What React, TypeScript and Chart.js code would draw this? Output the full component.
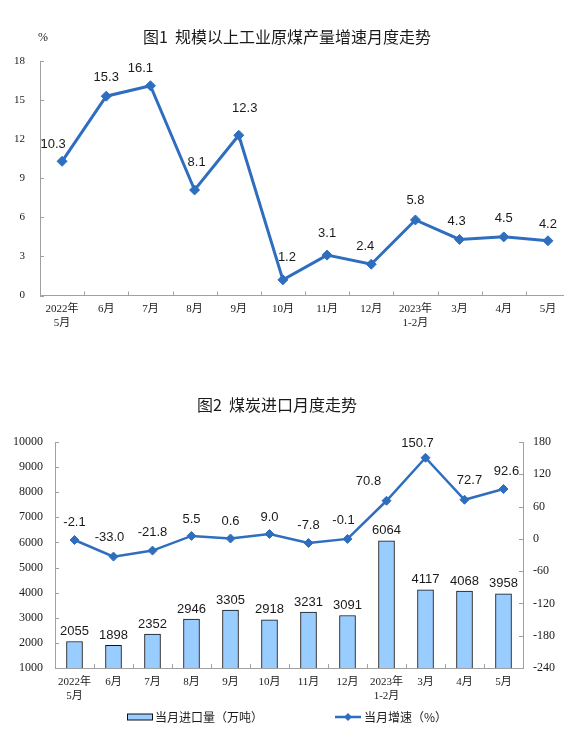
import React, { useEffect, useRef } from 'react';
import { Chart, registerables } from 'chart.js';

Chart.register(...registerables);

// ---------- data ----------
const monthLabels: (string | string[])[] = [
  ['2022年', '5月'], '6月', '7月', '8月', '9月', '10月', '11月', '12月',
  ['2023年', '1-2月'], '3月', '4月', '5月',
];
const rawCoalGrowth = [10.3, 15.3, 16.1, 8.1, 12.3, 1.2, 3.1, 2.4, 5.8, 4.3, 4.5, 4.2];
const importVolume = [2055, 1898, 2352, 2946, 3305, 2918, 3231, 3091, 6064, 4117, 4068, 3958];
const importGrowth = [-2.1, -33.0, -21.8, 5.5, 0.6, 9.0, -7.8, -0.1, 70.8, 150.7, 72.7, 92.6];

const growthAxis = { min: 0, max: 18, step: 3 };
const volumeAxis = { min: 1000, max: 10000, step: 1000 };
const importGrowthAxis = { min: -240, max: 180, step: 60 };

const title1 = '图1  规模以上工业原煤产量增速月度走势';
const title2 = '图2  煤炭进口月度走势';
const unit1 = '%';
const volumeLegend = '当月进口量（万吨）';
const growthLegend = '当月增速（%）';

// label offsets (presentation only)
const topLabelNudge = [[-9, -17], [0, -19], [-10, -17], [2, -28], [6, -27], [4, -22], [0, -22], [-6, -18], [0, -20], [-3, -18], [0, -18], [0, -16]];
const bottomLabelNudge = [[0, -18], [-4, -19], [0, -18], [0, -16], [0, -17], [0, -17], [0, -18], [-4, -18], [-18, -19], [-8, -14], [5, -19], [3, -18]];

// ---------- styles ----------
const LINE_BLUE = '#2F6EBE';
const BAR_FILL = '#99CCFF';
const AXIS_GREY = '#A0A0A0';
const TEXT = '#1a1a1a';
const SERIF = "'Liberation Serif', 'Times New Roman', 'Noto Sans CJK SC', serif";
const SANS = "'Liberation Sans', Arial, 'Noto Sans CJK SC', sans-serif";
const CJK = "'Noto Sans CJK SC', 'Noto Sans', sans-serif";

const inwardTicks = {
  id: 'inwardTicks',
  beforeDatasetsDraw(chart: any) {
    const { ctx, chartArea } = chart;
    ctx.save();
    ctx.strokeStyle = AXIS_GREY;
    ctx.lineWidth = 1;
    ctx.beginPath();
    Object.values(chart.scales).forEach((scale: any) => {
      if (scale.axis === 'y') {
        const left = scale.position === 'left';
        scale.ticks.forEach((_t: any, i: number) => {
          const y = Math.round(scale.getPixelForTick(i)) + 0.5;
          const x = left ? chartArea.left : chartArea.right;
          ctx.moveTo(x, y);
          ctx.lineTo(left ? x + 4 : x - 4, y);
        });
      } else {
        const n = scale.ticks.length;
        const w = (chartArea.right - chartArea.left) / n;
        for (let i = 1; i < n; i++) {
          const x = Math.round(chartArea.left + i * w) + 0.5;
          ctx.moveTo(x, chartArea.bottom);
          ctx.lineTo(x, chartArea.bottom - 4);
        }
      }
    });
    ctx.stroke();
    ctx.restore();
  },
};

const valueLabels = {
  id: 'valueLabels',
  afterDatasetsDraw(chart: any) {
    const { ctx } = chart;
    ctx.save();
    ctx.fillStyle = TEXT;
    ctx.font = `13px ${SANS}`;
    ctx.textAlign = 'center';
    ctx.textBaseline = 'middle';
    chart.data.datasets.forEach((ds: any, di: number) => {
      const meta = chart.getDatasetMeta(di);
      meta.data.forEach((el: any, j: number) => {
        const v = ds.data[j];
        const text = ds.labelDecimals != null ? v.toFixed(ds.labelDecimals) : String(v);
        if (ds.labelNudge) {
          const [dx, dy] = ds.labelNudge[j];
          ctx.fillText(text, el.x + dx, el.y + dy);
        } else {
          ctx.fillText(text, el.x, el.y - 10);
        }
      });
    });
    ctx.restore();
  },
};

const decor = {
  id: 'decor',
  afterDraw(chart: any, _args: any, opts: any) {
    const { ctx } = chart;
    ctx.save();
    ctx.fillStyle = TEXT;
    ctx.textBaseline = 'middle';
    if (opts.title) {
      ctx.font = `16px ${CJK}`;
      ctx.textAlign = 'center';
      ctx.fillText(opts.title, opts.titleX, opts.titleY);
    }
    if (opts.unit) {
      ctx.font = `12px ${SERIF}`;
      ctx.textAlign = 'center';
      ctx.fillText(opts.unit, opts.unitX, opts.unitY);
    }
    if (opts.legend) {
      const y = opts.legendY;
      ctx.font = `12px ${CJK}`;
      ctx.textAlign = 'left';
      // bar swatch
      ctx.fillStyle = BAR_FILL;
      ctx.fillRect(127.5, y - 3, 25, 6);
      ctx.strokeStyle = '#111';
      ctx.lineWidth = 1;
      ctx.strokeRect(127.5, y - 3, 25, 6);
      ctx.fillStyle = TEXT;
      ctx.fillText(chart.data.datasets[1].label, 155, y);
      // line swatch
      ctx.strokeStyle = LINE_BLUE;
      ctx.lineWidth = 2.5;
      ctx.beginPath();
      ctx.moveTo(335, y);
      ctx.lineTo(361, y);
      ctx.stroke();
      ctx.fillStyle = LINE_BLUE;
      ctx.beginPath();
      ctx.moveTo(348, y - 4);
      ctx.lineTo(352, y);
      ctx.lineTo(348, y + 4);
      ctx.lineTo(344, y);
      ctx.closePath();
      ctx.fill();
      ctx.fillStyle = TEXT;
      ctx.fillText(chart.data.datasets[0].label, 364, y);
    }
    ctx.restore();
  },
};

const yTickFont = (size: number) => ({ family: SERIF, size });

function TopChart() {
  const ref = useRef<HTMLCanvasElement>(null);
  useEffect(() => {
    const chart = new Chart(ref.current!, {
      type: 'line',
      data: {
        labels: monthLabels,
        datasets: [
          {
            label: '原煤产量增速',
            data: rawCoalGrowth,
            borderColor: LINE_BLUE,
            backgroundColor: LINE_BLUE,
            borderWidth: 3,
            pointStyle: 'rectRot',
            pointRadius: 5,
            pointBorderWidth: 1,
            tension: 0,
            labelDecimals: 1,
            labelNudge: topLabelNudge,
          } as any,
        ],
      },
      options: {
        animation: false,
        responsive: false,
        events: [],
        layout: { padding: { top: 61, right: 10, left: 0, bottom: 0 } },
        plugins: {
          legend: { display: false },
          tooltip: { enabled: false },
          decor: { title: title1, titleX: 287, titleY: 37, unit: unit1, unitX: 43, unitY: 38 },
        } as any,
        scales: {
          x: {
            type: 'category',
            offset: true,
            grid: { display: true, drawOnChartArea: false, drawTicks: false, offset: true },
            border: { display: true, color: AXIS_GREY, width: 1 },
            ticks: { font: { family: SERIF, size: 11, lineHeight: 1.25 }, color: TEXT, padding: 7, maxRotation: 0, autoSkip: false },
            afterFit: (s: any) => { s.height = 49.5; },
          },
          y: {
            min: growthAxis.min,
            max: growthAxis.max,
            grid: { display: true, drawOnChartArea: false, drawTicks: false },
            border: { display: true, color: AXIS_GREY, width: 1 },
            ticks: { stepSize: growthAxis.step, font: yTickFont(11), color: TEXT, padding: 15 },
            afterFit: (s: any) => { s.width = 40; },
          },
        },
      },
      plugins: [inwardTicks, valueLabels, decor],
    });
    return () => chart.destroy();
  }, []);
  return <canvas ref={ref} width={580} height={345} style={{ position: 'absolute', left: 0, top: 0, display: 'block' }} />;
}

function BottomChart() {
  const ref = useRef<HTMLCanvasElement>(null);
  useEffect(() => {
    const chart = new Chart(ref.current!, {
      type: 'bar',
      data: {
        labels: monthLabels,
        datasets: [
          {
            type: 'line',
            label: growthLegend,
            data: importGrowth,
            yAxisID: 'y1',
            borderColor: LINE_BLUE,
            backgroundColor: LINE_BLUE,
            borderWidth: 2.5,
            pointStyle: 'rectRot',
            pointRadius: 4.5,
            pointBorderWidth: 1,
            tension: 0,
            order: 0,
            labelDecimals: 1,
            labelNudge: bottomLabelNudge,
          } as any,
          {
            type: 'bar',
            label: volumeLegend,
            data: importVolume,
            yAxisID: 'y',
            backgroundColor: BAR_FILL,
            borderColor: '#111',
            borderWidth: 1,
            barThickness: 16,
            order: 1,
          } as any,
        ],
      },
      options: {
        animation: false,
        responsive: false,
        events: [],
        layout: { padding: { top: 97, right: 0, left: 0, bottom: 0 } },
        plugins: {
          legend: { display: false },
          tooltip: { enabled: false },
          decor: { title: title2, titleX: 277, titleY: 60, legend: true, legendY: 372 },
        } as any,
        scales: {
          x: {
            type: 'category',
            offset: true,
            grid: { display: true, drawOnChartArea: false, drawTicks: false, offset: true },
            border: { display: true, color: AXIS_GREY, width: 1 },
            ticks: { font: { family: SERIF, size: 11, lineHeight: 1.25 }, color: TEXT, padding: 7, maxRotation: 0, autoSkip: false },
            afterFit: (s: any) => { s.height = 67; },
          },
          y: {
            position: 'left',
            min: volumeAxis.min,
            max: volumeAxis.max,
            grid: { display: true, drawOnChartArea: false, drawTicks: false },
            border: { display: true, color: AXIS_GREY, width: 1 },
            ticks: { stepSize: volumeAxis.step, font: yTickFont(12), color: TEXT, padding: 12, callback: (v: any) => String(v) },
            afterFit: (s: any) => { s.width = 55; },
          },
          y1: {
            position: 'right',
            min: importGrowthAxis.min,
            max: importGrowthAxis.max,
            grid: { display: true, drawOnChartArea: false, drawTicks: false },
            border: { display: true, color: AXIS_GREY, width: 1 },
            ticks: { stepSize: importGrowthAxis.step, font: yTickFont(12), color: TEXT, padding: 10, callback: (v: any) => String(v) },
            afterFit: (s: any) => { s.width = 41; },
          },
        },
      },
      plugins: [inwardTicks, valueLabels, decor],
    });
    return () => chart.destroy();
  }, []);
  return <canvas ref={ref} width={564} height={390} style={{ position: 'absolute', left: 0, top: 345, display: 'block' }} />;
}

export default function App() {
  return (
    <div style={{ position: 'absolute', left: 0, top: 0, width: 564, height: 735, overflow: 'hidden', background: '#fff' }}>
      <TopChart />
      <BottomChart />
    </div>
  );
}
